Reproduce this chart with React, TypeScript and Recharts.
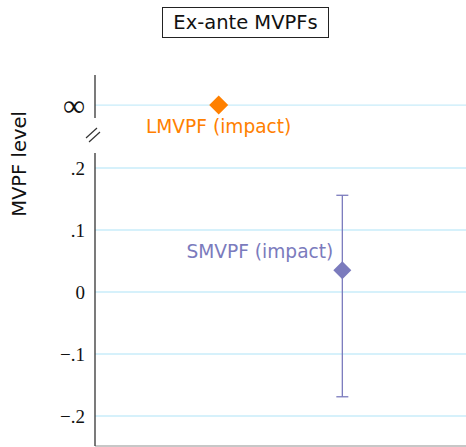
import React from "react";
import { ScatterChart, Scatter, XAxis, YAxis, CartesianGrid, ErrorBar } from "recharts";

// ---- data ----
const categories = ["LMVPF (impact)", "SMVPF (impact)"];
const categoryPositions = [1, 2];
// LMVPF estimate is infinite -> drawn on the "∞" row (row value 1)
const infinityRowValue = 1;
const smvpfEstimate = 0.035;
const smvpfCiLow = -0.169;
const smvpfCiHigh = 0.156;
const mainTicks = [-0.2, -0.1, 0, 0.1, 0.2];
const mainTickLabels = ["\u2212.2", "\u2212.1", "0", ".1", ".2"];
const topTicks = [1];
const topTickLabels = ["\u221E"];
const title = "Ex-ante MVPFs";
const yLabel = "MVPF level";

const ORANGE = "#FF8000";
const PURPLE = "#7B7BBD";
const GRID = "#c8ecfa";
const SANS = "DejaVu Sans, sans-serif";
const SERIF = "Liberation Serif, serif";

const topData = [{ x: categoryPositions[0], y: infinityRowValue, label: categories[0] }];
const mainData = [
  {
    x: categoryPositions[1],
    y: smvpfEstimate,
    err: [smvpfEstimate - smvpfCiLow, smvpfCiHigh - smvpfEstimate],
    label: categories[1],
  },
];

const diamondPath = (cx: number, cy: number, r: number) =>
  `M${cx},${cy - r}L${cx + r},${cy}L${cx},${cy + r}L${cx - r},${cy}Z`;

const TopShape = (props: any) => {
  const { cx, cy, payload } = props;
  return (
    <g>
      <path d={diamondPath(cx, cy, 9.5)} fill={ORANGE} />
      <text x={cx} y={cy + 28} textAnchor="middle" fill={ORANGE} fontFamily={SANS} fontSize={18.6}>
        {payload.label}
      </text>
    </g>
  );
};

const MainShape = (props: any) => {
  const { cx, cy, payload } = props;
  return (
    <g>
      <path d={diamondPath(cx, cy, 9)} fill={PURPLE} />
      <text x={cx - 9} y={cy - 12} textAnchor="end" fill={PURPLE} fontFamily={SANS} fontSize={18.6}>
        {payload.label}
      </text>
    </g>
  );
};

const fmtMain = (v: number) => {
  const i = mainTicks.findIndex((t) => Math.abs(t - v) < 1e-9);
  return i >= 0 ? mainTickLabels[i] : "";
};
const fmtTop = (v: number) => {
  const i = topTicks.findIndex((t) => Math.abs(t - v) < 1e-9);
  return i >= 0 ? topTickLabels[i] : "";
};

export default function App() {
  return (
    <div style={{ position: "absolute", left: 0, top: 0, width: 466, height: 447, background: "#fff" }}>
      {/* main panel */}
      <div style={{ position: "absolute", left: 0, top: 0 }}>
        <ScatterChart width={466} height={447} margin={{ top: 153, right: 0, bottom: 0, left: 0 }}>
          <CartesianGrid horizontal vertical={false} horizontalValues={mainTicks} stroke={GRID} strokeWidth={1.3} />
          <XAxis
            type="number"
            dataKey="x"
            domain={[0, 3]}
            height={1}
            tick={false}
            tickLine={false}
            axisLine={{ stroke: "#b5b5b5", strokeWidth: 1.3 }}
          />
          <YAxis
            type="number"
            dataKey="y"
            width={95}
            domain={[-0.2484, 0.2242]}
            ticks={mainTicks}
            tickFormatter={fmtMain}
            tickLine={false}
            tickSize={6}
            tickMargin={4}
            axisLine={{ stroke: "#333", strokeWidth: 1.3 }}
            tick={{ fill: "#111", fontSize: 19, fontFamily: SERIF }}
            interval={0}
          />
          <Scatter data={mainData} fill={PURPLE} shape={MainShape} isAnimationActive={false}>
            <ErrorBar dataKey="err" direction="y" width={6} stroke={PURPLE} strokeWidth={1.3} />
          </Scatter>
        </ScatterChart>
      </div>
      {/* top (infinity) panel */}
      <div style={{ position: "absolute", left: 0, top: 0 }}>
        <ScatterChart width={466} height={150} margin={{ top: 75, right: 0, bottom: 32, left: 0 }}>
          <CartesianGrid horizontal vertical={false} horizontalValues={topTicks} stroke={GRID} strokeWidth={1.3} />
          <XAxis type="number" dataKey="x" domain={[0, 3]} hide />
          <YAxis
            type="number"
            dataKey="y"
            width={95}
            domain={[0.7, 1.7]}
            ticks={topTicks}
            tickFormatter={fmtTop}
            tickLine={false}
            tickSize={6}
            tickMargin={4}
            axisLine={{ stroke: "#333", strokeWidth: 1.3 }}
            tick={{ fill: "#111", fontSize: 31, fontFamily: SERIF }}
            interval={0}
          />
          <Scatter data={topData} fill={ORANGE} shape={TopShape} isAnimationActive={false} />
        </ScatterChart>
      </div>
      {/* axis break marks, y label, title */}
      <svg width={466} height={447} style={{ position: "absolute", left: 0, top: 0, pointerEvents: "none" }}>
        <line x1={86} y1={138} x2={97} y2={128} stroke="#333" strokeWidth={1.2} />
        <line x1={89} y1={142} x2={100} y2={132} stroke="#333" strokeWidth={1.2} />
        <text
          x={0}
          y={0}
          transform="translate(26,164) rotate(-90)"
          textAnchor="middle"
          fontFamily={SANS}
          fontSize={19.5}
          fill="#111"
        >
          {yLabel}
        </text>
      </svg>
      <div
        style={{
          position: "absolute",
          left: 162,
          top: 7,
          width: 165,
          height: 29,
          border: "1px solid #222",
          display: "flex",
          alignItems: "center",
          justifyContent: "center",
          fontFamily: SANS,
          fontSize: 19.5,
          color: "#111",
        }}
      >
        {title}
      </div>
    </div>
  );
}
